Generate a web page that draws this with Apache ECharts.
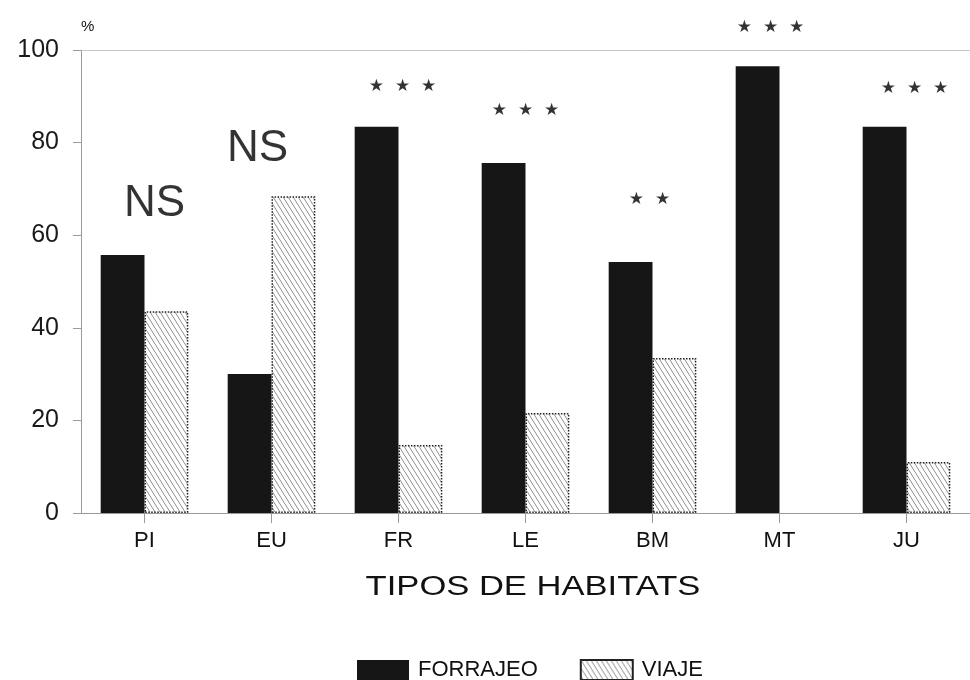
<!DOCTYPE html>
<html>
<head>
<meta charset="utf-8">
<script src="https://cdn.jsdelivr.net/npm/echarts@6/dist/echarts.min.js"></script>
<style>
html,body{margin:0;padding:0;background:#fff;}
#chart{width:970px;height:680px;}
</style>
</head>
<body>
<div id="chart"></div>
<script>
// ---- data ----
var categories = ['PI', 'EU', 'FR', 'LE', 'BM', 'MT', 'JU'];
var forrajeo = [55.7, 30.0, 83.4, 75.6, 54.2, 96.5, 83.4];
var viaje = [43.6, 68.4, 14.7, 21.6, 33.5, 0, 11.0];
var annotationText = ['NS', 'NS', '★  ★  ★', '★  ★  ★', '★  ★', '★  ★  ★', '★  ★  ★'];
var annotationLevel = [66.7, 78.6, 92.2, 87.0, 67.6, 104.8, 91.6];
var yTicks = [0, 20, 40, 60, 80, 100];
var seriesNames = ['FORRAJEO', 'VIAJE'];
var axisTitle = 'TIPOS DE HABITATS';

// ---- hatch pattern ----
function makeHatch() {
  var c = document.createElement('canvas');
  c.width = 5; c.height = 8;
  var ctx = c.getContext('2d');
  ctx.fillStyle = '#ffffff';
  ctx.fillRect(0, 0, 5, 8);
  ctx.strokeStyle = '#909090';
  ctx.lineWidth = 1;
  for (var k = -1; k <= 1; k++) {
    ctx.beginPath();
    ctx.moveTo(k * 5, 0);
    ctx.lineTo(k * 5 + 5, 8);
    ctx.stroke();
  }
  return c;
}
var hatch = makeHatch();

var labelNudge = [10, -14, 4, 0, -3, -9, 8];
var annData = categories.map(function (c, i) {
  var big = annotationText[i] === 'NS';
  return {
    value: [c, annotationLevel[i]],
    label: {
      formatter: annotationText[i],
      offset: [labelNudge[i], 0],
      fontSize: big ? 44 : 17,
      fontFamily: big ? 'Liberation Sans' : 'DejaVu Sans'
    }
  };
});

var viajeData = viaje.map(function (v) {
  return v === 0 ? {value: v, itemStyle: {borderWidth: 0}} : v;
});

var chart = echarts.init(document.getElementById('chart'), null, {renderer: 'canvas'});
var font = 'Liberation Sans';
chart.setOption({
  animation: false,
  backgroundColor: '#ffffff',
  textStyle: {fontFamily: font, color: '#111'},
  grid: {left: 81, top: 50, width: 896, height: 463, containLabel: false},
  legend: {
    data: seriesNames,
    left: 352, top: 654,
    itemWidth: 52, itemHeight: 20, itemGap: 42,
    icon: 'rect',
    textStyle: {fontSize: 22, color: '#111', fontFamily: font, padding: [0, 0, 0, 4]}
  },
  xAxis: [{
    type: 'category',
    data: categories,
    position: 'bottom',
    axisLine: {show: true, lineStyle: {color: '#9a9a9a', width: 1}},
    axisTick: {show: true, alignWithLabel: true, length: 10, lineStyle: {color: '#9a9a9a'}},
    axisLabel: {fontSize: 22, color: '#111', margin: 17, fontFamily: font},
    splitLine: {show: false}
  }, {
    type: 'category',
    data: categories,
    position: 'top',
    axisLine: {show: true, lineStyle: {color: '#c8c8c8', width: 1}},
    axisTick: {show: false},
    axisLabel: {show: false},
    splitLine: {show: false}
  }],
  yAxis: {
    type: 'value',
    min: 0, max: 100, interval: 20,
    name: '%',
    nameLocation: 'end',
    nameGap: 16,
    nameTextStyle: {fontSize: 15, color: '#111', align: 'left', fontFamily: font},
    axisLine: {show: true, lineStyle: {color: '#9a9a9a', width: 1}},
    axisTick: {show: true, length: 8, lineStyle: {color: '#9a9a9a'}},
    axisLabel: {
      fontSize: 25, color: '#1a1a1a', margin: 22, fontFamily: font,
      formatter: function (v) { return yTicks.indexOf(v) >= 0 ? String(v) : ''; }
    },
    splitLine: {show: false}
  },
  graphic: [{
    type: 'text',
    x: 533, y: 588,
    scaleX: 1.28,
    style: {
      text: axisTitle,
      font: '27px "Liberation Sans"',
      fill: '#111',
      textAlign: 'center',
      textVerticalAlign: 'middle'
    }
  }],
  series: [{
    name: seriesNames[0],
    type: 'bar',
    data: forrajeo,
    barGap: '0%',
    barCategoryGap: '31%',
    itemStyle: {color: '#161616'}
  }, {
    name: seriesNames[1],
    type: 'bar',
    data: viajeData,
    barGap: '0%',
    barCategoryGap: '31%',
    itemStyle: {
      color: {image: hatch, repeat: 'repeat'},
      borderColor: '#222',
      borderWidth: 1.5,
      borderType: 'dotted'
    }
  }, {
    name: 'annot',
    type: 'scatter',
    data: annData,
    symbolSize: 0,
    clip: false,
    silent: true,
    label: {show: true, position: 'inside', color: '#000'}
  }]
});
</script>
</body>
</html>
